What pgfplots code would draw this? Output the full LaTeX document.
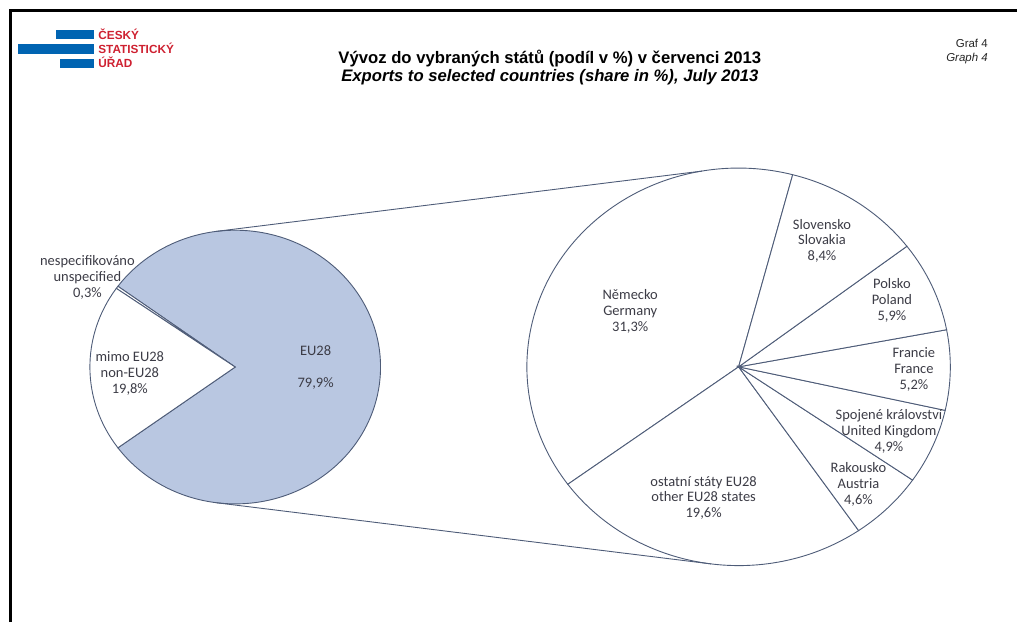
\documentclass[border=0pt]{standalone}
\usepackage{pgfplots}
\pgfplotsset{compat=1.18}
\usepackage{fontspec}
\setmainfont{Liberation Sans}
\newfontfamily\calibri{Carlito}

\definecolor{pieblue}{RGB}{185,199,225}
\definecolor{edgec}{RGB}{78,92,120}
\definecolor{labc}{RGB}{60,60,70}
\definecolor{czsred}{RGB}{206,32,48}
\definecolor{czsblue}{RGB}{0,100,178}

% share in % of all exports
\def\leftpie{79.9/pieblue, 0.3/white, 19.8/white}
% EU28 split: Germany, other EU28, Austria, UK, France, Poland, Slovakia
\def\rightpie{31.3, 19.6, 4.6, 4.9, 5.2, 5.9, 8.4}

\begin{document}
\begin{tikzpicture}
\begin{axis}[
    width=1018pt, height=623pt, scale only axis,
    xmin=0, xmax=1018, ymin=0, ymax=623,
    enlargelimits=false, axis lines=none, clip=false,
]
% page area
\path (axis cs:0,0) rectangle (axis cs:1018,623);
% frame
\draw[line width=2.5pt] (axis cs:10.5,0) -- (axis cs:10.5,612.4) -- (axis cs:1018,612.4);

% left pie
\pgfmathsetmacro\angA{-79.9*1.8}
\xdef\angA{\angA}
\foreach \v/\col in \leftpie {
  \pgfmathsetmacro\angB{\angA+\v*3.6}
  \pgfmathsetmacro\px{235.5+145.5*cos(\angA)}
  \pgfmathsetmacro\py{255.5+137*sin(\angA)}
  \edef\tmp{\noexpand\filldraw[draw=edgec,fill=\col,line width=0.9pt]
    (axis cs:235.5,255.5) -- (axis cs:\px,\py)
    arc[start angle=\angA,end angle=\angB,x radius=145.5pt,y radius=137pt] -- cycle;}
  \tmp
  \xdef\angA{\angB}
}

% right pie
\xdef\angA{75.2}
\foreach \v in \rightpie {
  \pgfmathsetmacro\angB{\angA+\v*360/79.9}
  \pgfmathsetmacro\px{739.5+212*cos(\angA)}
  \pgfmathsetmacro\py{255.7+199*sin(\angA)}
  \edef\tmp{\noexpand\filldraw[draw=edgec,fill=white,line width=0.9pt]
    (axis cs:739.5,255.7) -- (axis cs:\px,\py)
    arc[start angle=\angA,end angle=\angB,x radius=212pt,y radius=199pt] -- cycle;}
  \tmp
  \xdef\angA{\angB}
}

% connector lines
\draw[edgec,line width=0.9pt] (axis cs:{235.5+145.5*cos(97.5)},{255.5+137*sin(97.5)}) -- (axis cs:{739.5+212*cos(100)},{255.7+199*sin(100)});
\draw[edgec,line width=0.9pt] (axis cs:{235.5+145.5*cos(-97.5)},{255.5+137*sin(-97.5)}) -- (axis cs:{739.5+212*cos(-97.5)},{255.7+199*sin(-97.5)});

% titles
\node[anchor=base,font=\fontsize{16.7}{19}\selectfont\bfseries] at (axis cs:550.5,559.7) {Vývoz do vybraných států (podíl v \%) v červenci 2013};
\node[anchor=base,font=\fontsize{16.7}{19}\selectfont\bfseries\itshape] at (axis cs:550.5,541.3) {Exports to selected countries (share in \%), July 2013};
\node[anchor=base east,font=\fontsize{11.5}{13}\selectfont,text=black!85] at (axis cs:992.5,575.3) {Graf 4};
\node[anchor=base east,font=\fontsize{11.5}{13}\selectfont\itshape,text=black!85] at (axis cs:992.5,561.2) {Graph 4};

% logo
\fill[czsblue] (axis cs:56,584) rectangle (axis cs:94.3,593);
\fill[czsblue] (axis cs:18.3,569) rectangle (axis cs:94.3,579);
\fill[czsblue] (axis cs:60,554.8) rectangle (axis cs:94.3,564.3);
\node[anchor=base west,inner sep=0pt,text=czsred,font=\fontsize{11.8}{13}\selectfont\bfseries] at (axis cs:98.3,583.7) {ČESKÝ};
\node[anchor=base west,inner sep=0pt,text=czsred,font=\fontsize{11.8}{13}\selectfont\bfseries] at (axis cs:98.3,569) {STATISTICKÝ};
\node[anchor=base west,inner sep=0pt,text=czsred,font=\fontsize{11.8}{13}\selectfont\bfseries] at (axis cs:98.3,555) {ÚŘAD};

% slice labels
\tikzset{lab/.style={align=center,text=labc,inner sep=0pt,font=\calibri\fontsize{14.5}{15.8}\selectfont}}
\node[lab] at (axis cs:87.5,345.5) {nespecifikováno\\unspecified\\0,3\%};
\node[lab] at (axis cs:130,249) {mimo EU28\\non-EU28\\19,8\%};
\node[lab] at (axis cs:316,255) {EU28\\\mbox{}\\79,9\%};
\node[lab] at (axis cs:631,311) {Německo\\Germany\\31,3\%};
\node[lab] at (axis cs:823,382) {Slovensko\\Slovakia\\8,4\%};
\node[lab] at (axis cs:893,322) {Polsko\\Poland\\5,9\%};
\node[lab] at (axis cs:915,253) {Francie\\France\\5,2\%};
\node[lab] at (axis cs:890,191) {Spojené království\\United Kingdom\\4,9\%};
\node[lab] at (axis cs:859.5,138) {Rakousko\\Austria\\4,6\%};
\node[lab] at (axis cs:704.5,124.5) {ostatní státy EU28\\other EU28 states\\19,6\%};
\end{axis}
\end{tikzpicture}
\end{document}
